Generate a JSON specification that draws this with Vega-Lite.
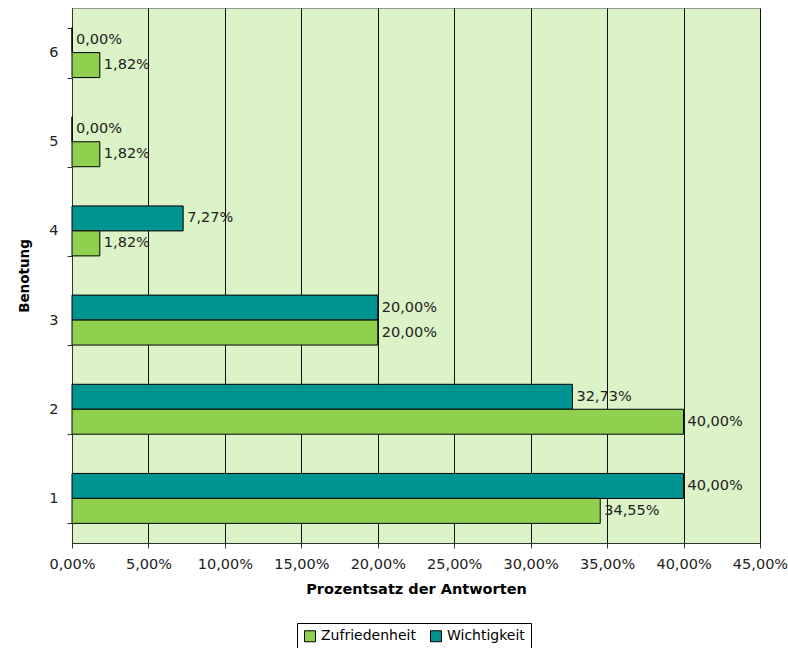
{
  "$schema": "https://vega.github.io/schema/vega-lite/v6.json",
  "width": 688,
  "height": 535,
  "autosize": {"type": "none"},
  "padding": {"left": 72, "top": 8, "right": 28, "bottom": 105},
  "background": "white",
  "config": {
    "font": "DejaVu Sans",
    "locale": {"number": {"decimal": ",", "thousands": ".", "grouping": [3], "currency": ["", " €"]}},
    "view": {"fill": "#dbf3c6", "stroke": "#999999", "strokeWidth": 1},
    "axis": {"labelFont": "DejaVu Sans", "titleFont": "DejaVu Sans", "labelColor": "#222222", "titleColor": "#000000", "domainColor": "#333333", "tickColor": "#333333"},
    "legend": {"labelFont": "DejaVu Sans"}
  },
  "data": {
    "values": [
      {"note": "1", "serie": "Wichtigkeit", "wert": 0.4000},
      {"note": "1", "serie": "Zufriedenheit", "wert": 0.3455},
      {"note": "2", "serie": "Wichtigkeit", "wert": 0.3273},
      {"note": "2", "serie": "Zufriedenheit", "wert": 0.4000},
      {"note": "3", "serie": "Wichtigkeit", "wert": 0.2000},
      {"note": "3", "serie": "Zufriedenheit", "wert": 0.2000},
      {"note": "4", "serie": "Wichtigkeit", "wert": 0.0727},
      {"note": "4", "serie": "Zufriedenheit", "wert": 0.0182},
      {"note": "5", "serie": "Wichtigkeit", "wert": 0.0},
      {"note": "5", "serie": "Zufriedenheit", "wert": 0.0182},
      {"note": "6", "serie": "Wichtigkeit", "wert": 0.0},
      {"note": "6", "serie": "Zufriedenheit", "wert": 0.0182}
    ]
  },
  "encoding": {
    "y": {
      "field": "note", "type": "nominal",
      "sort": ["6", "5", "4", "3", "2", "1"],
      "scale": {"paddingInner": 0.44, "paddingOuter": 0.22},
      "axis": {"title": "Benotung", "titleFontSize": 13.5, "titleFontWeight": "bold", "titlePadding": 17, "labelFontSize": 14.5, "labelAngle": 0, "labelPadding": 9, "tickBand": "extent", "tickSize": 5, "domain": true}
    },
    "yOffset": {"field": "serie", "type": "nominal", "sort": ["Wichtigkeit", "Zufriedenheit"]},
    "x": {
      "field": "wert", "type": "quantitative",
      "scale": {"domain": [0, 0.45], "nice": false},
      "axis": {"title": "Prozentsatz der Antworten", "titleFontSize": 14.5, "titleFontWeight": "bold", "titlePadding": 12, "labelFontSize": 14.5, "labelPadding": 9, "values": [0, 0.05, 0.1, 0.15, 0.2, 0.25, 0.3, 0.35, 0.4, 0.45], "format": ".2%", "grid": true, "gridColor": "#111111", "gridOpacity": 1, "gridWidth": 1, "tickSize": 5, "labelFlush": false}
    }
  },
  "layer": [
    {
      "mark": {"type": "bar", "stroke": "#000000", "strokeWidth": 1},
      "encoding": {
        "color": {
          "field": "serie", "type": "nominal",
          "scale": {"domain": ["Zufriedenheit", "Wichtigkeit"], "range": ["#8fd14f", "#009490"]},
          "legend": {"title": null, "orient": "none", "legendX": 225, "legendY": 615, "direction": "horizontal", "symbolType": "square", "symbolSize": 121, "symbolStrokeColor": "#000000", "symbolStrokeWidth": 1, "labelFontSize": 14, "labelColor": "#000000", "strokeColor": "#000000", "padding": 6, "columnPadding": 12, "labelOffset": 4}
        }
      }
    },
    {
      "mark": {"type": "text", "align": "left", "baseline": "middle", "dx": 4, "fontSize": 14.5, "color": "#222222"},
      "encoding": {
        "text": {"field": "wert", "type": "quantitative", "format": ".2%"}
      }
    }
  ]
}
